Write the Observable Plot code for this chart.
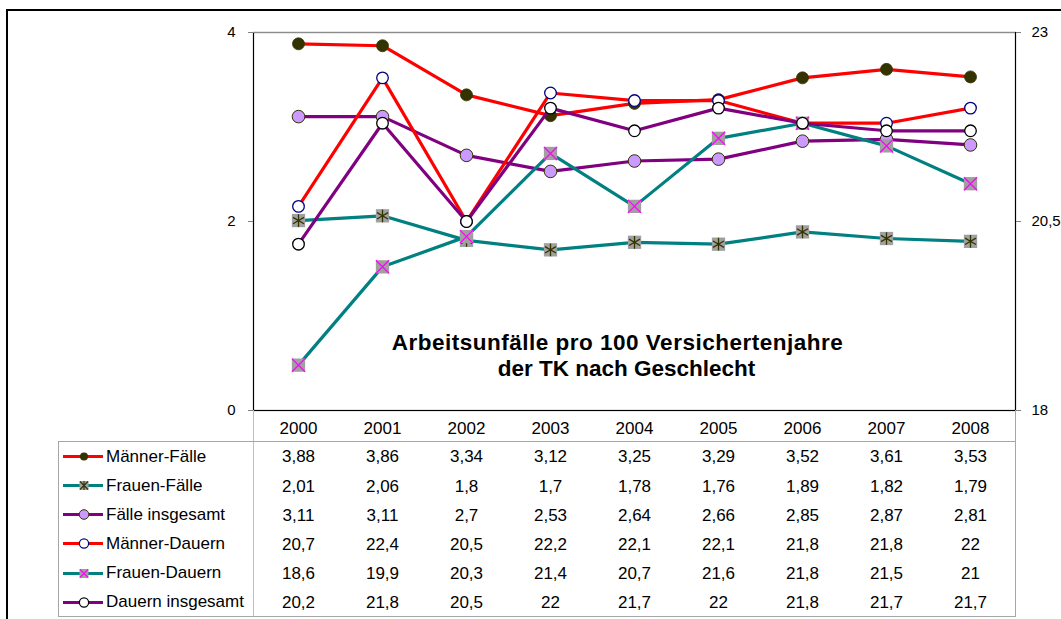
<!DOCTYPE html>
<html><head><meta charset="utf-8">
<script src="https://cdn.jsdelivr.net/npm/d3@7"></script>
<script src="https://cdn.jsdelivr.net/npm/@observablehq/plot@0.6"></script>
<style>
html,body{margin:0;padding:0;background:#fff;overflow:hidden;}
#wrap{position:relative;width:1061px;height:619px;overflow:hidden;font-family:"Liberation Sans",Arial,sans-serif;}
#chart{position:absolute;left:0;top:0;}
.ov{position:absolute;pointer-events:none;box-sizing:border-box;}
#frame{left:6px;top:9px;width:1200px;height:800px;border-left:2px solid #000;border-top:2px solid #000;}
#tbl{left:58px;top:441px;width:958px;height:176px;border:1px solid #a6a6a6;}
#hdr{left:253px;top:410px;width:763px;height:207px;border-left:1px solid #c0c0c0;border-right:1px solid #a6a6a6;}
#legend{left:59px;top:442px;width:194px;}
.lrow{height:29.15px;display:flex;align-items:center;font-size:17px;color:#000;white-space:nowrap;}
.lrow svg{flex:none;}
.title1{letter-spacing:0.5px;}
</style></head><body>
<div id="wrap"><div id="chart"></div><div id="hdr" class="ov"></div><div id="tbl" class="ov"></div><div id="legend" class="ov"></div><div id="frame" class="ov"></div></div>
<script>
const years = ["2000","2001","2002","2003","2004","2005","2006","2007","2008"];
const maennerFaelle   = [3.88, 3.86, 3.34, 3.12, 3.25, 3.29, 3.52, 3.61, 3.53];
const frauenFaelle    = [2.01, 2.06, 1.8, 1.7, 1.78, 1.76, 1.89, 1.82, 1.79];
const faelleInsgesamt = [3.11, 3.11, 2.7, 2.53, 2.64, 2.66, 2.85, 2.87, 2.81];
const maennerDauern   = [20.7, 22.4, 20.5, 22.2, 22.1, 22.1, 21.8, 21.8, 22];
const frauenDauern    = [18.6, 19.9, 20.3, 21.4, 20.7, 21.6, 21.8, 21.5, 21];
const dauernInsgesamt = [20.2, 21.8, 20.5, 22, 21.7, 22, 21.8, 21.7, 21.7];
const seriesNames = ["Männer-Fälle","Frauen-Fälle","Fälle insgesamt","Männer-Dauern","Frauen-Dauern","Dauern insgesamt"];
const leftDomain = [0, 4];
const leftTicks = [0, 2, 4];
const rightDomain = [18, 23];
const rightTicks = [18, 20.5, 23];
const titleLines = ["Arbeitsunfälle pro 100 Versichertenjahre", "der TK nach Geschlecht"];

const fmt = v => String(v).replace(".", ",");
const y2 = d3.scaleLinear(rightDomain, leftDomain);

const seriesValues = [maennerFaelle, frauenFaelle, faelleInsgesamt, maennerDauern, frauenDauern, dauernInsgesamt];
const secondary = [false, false, false, true, true, true];
const lineColors = ["#ff0000", "#008080", "#800080", "#ff0000", "#008080", "#800080"];
const markerKinds = ["dark", "star", "lavender", "navy", "cross", "white"];

const series = seriesNames.map((name, i) => ({
  name,
  rows: years.map((year, j) => ({year, value: seriesValues[i][j], y: secondary[i] ? y2(seriesValues[i][j]) : seriesValues[i][j]}))
}));

function markerMarks(rows, kind) {
  const o = {x: "year", y: "y"};
  switch (kind) {
    case "dark": return [Plot.dot(rows, {...o, r: 6, fill: "#333300", stroke: "#333300", strokeWidth: 0.8})];
    case "lavender": return [Plot.dot(rows, {...o, r: 6.3, fill: "#cc99ff", stroke: "#333300", strokeWidth: 1})];
    case "navy": return [Plot.dot(rows, {...o, r: 5.8, fill: "#ffffff", stroke: "#000080", strokeWidth: 1.3})];
    case "white": return [Plot.dot(rows, {...o, r: 5.8, fill: "#ffffff", stroke: "#000000", strokeWidth: 1.3})];
    case "star": return [
      Plot.dot(rows, {...o, symbol: "square", r: 7.5, fill: "#a0a0a0"}),
      Plot.dot(rows, {...o, symbol: "asterisk", r: 6, stroke: "#333300", strokeWidth: 1.3})
    ];
    case "cross": return [
      Plot.dot(rows, {...o, symbol: "square", r: 7.5, fill: "#a0a0a0"}),
      Plot.dot(rows, {...o, symbol: "times", r: 6, stroke: "#ff00ff", strokeWidth: 1.3})
    ];
  }
}

const marks = [
  Plot.frame({stroke: "#000", strokeWidth: 1.2}),
  Plot.ruleY([leftDomain[1]], {stroke: "#8c8c8c", strokeWidth: 1.2}),
  Plot.axisY(leftTicks, {anchor: "left", tickSize: 5, tickPadding: 13, fontSize: 15, label: null, tickFormat: d => fmt(d), stroke: "#808080"}),
  Plot.axisY(rightTicks.map(y2), {anchor: "right", tickSize: 5, tickPadding: 11, fontSize: 15, label: null, tickFormat: d => fmt(+y2.invert(d).toFixed(2)), stroke: "#808080"}),
  Plot.axisX({tickSize: 0, tickPadding: 11, fontSize: 17, label: null}),
  Plot.text(titleLines.slice(0, 1), {text: d => d, frameAnchor: "middle", lineAnchor: "middle", dx: -17, dy: 121, fontSize: 22.5, fontWeight: "bold", className: "title1"}),
  Plot.text(titleLines.slice(1, 2), {text: d => d, frameAnchor: "middle", lineAnchor: "middle", dx: -8, dy: 147, fontSize: 22.5, fontWeight: "bold"})
];
series.forEach((s, i) => {
  marks.push(Plot.line(s.rows, {x: "year", y: "y", stroke: lineColors[i], strokeWidth: 3.2}));
  marks.push(...markerMarks(s.rows, markerKinds[i]));
});
series.forEach((s, i) => {
  marks.push(Plot.text(s.rows, {x: "year", text: d => fmt(d.value), frameAnchor: "bottom", lineAnchor: "middle", dy: 46.5 + 29.15 * i, fontSize: 17}));
});

const chart = Plot.plot({
  width: 1061, height: 619,
  marginLeft: 253, marginRight: 46, marginTop: 32, marginBottom: 209,
  style: {fontFamily: "'Liberation Sans', Arial, sans-serif", background: "transparent", color: "#000", overflow: "visible"},
  x: {type: "point", domain: years, padding: 0.5},
  y: {domain: leftDomain},
  marks
});
document.getElementById("chart").appendChild(chart);

// legend column of the data table
function swatch(i) {
  const c = lineColors[i], k = markerKinds[i];
  let m = "";
  if (k === "dark") m = `<circle cx="25" cy="14.5" r="4" fill="#333300"/>`;
  if (k === "lavender") m = `<circle cx="25" cy="14.5" r="4.8" fill="#cc99ff" stroke="#333300" stroke-width="1"/>`;
  if (k === "navy") m = `<circle cx="25" cy="14.5" r="4.6" fill="#fff" stroke="#000080" stroke-width="1.2"/>`;
  if (k === "white") m = `<circle cx="25" cy="14.5" r="4.6" fill="#fff" stroke="#000" stroke-width="1.2"/>`;
  if (k === "star") m = `<rect x="20.5" y="10" width="9" height="9" fill="#a0a0a0"/><path d="M21 10.5L29 18.5M29 10.5L21 18.5M25 10V19" stroke="#333300" stroke-width="1.1"/>`;
  if (k === "cross") m = `<rect x="20.5" y="10" width="9" height="9" fill="#a0a0a0"/><path d="M21 10.5L29 18.5M29 10.5L21 18.5" stroke="#ff00ff" stroke-width="1.1"/>`;
  return `<svg width="47" height="29"><line x1="4" x2="44" y1="14.5" y2="14.5" stroke="${c}" stroke-width="3"/>${m}</svg>`;
}
document.getElementById("legend").innerHTML = seriesNames.map((n, i) => `<div class="lrow">${swatch(i)}<span>${n}</span></div>`).join("");
</script>
</body></html>
